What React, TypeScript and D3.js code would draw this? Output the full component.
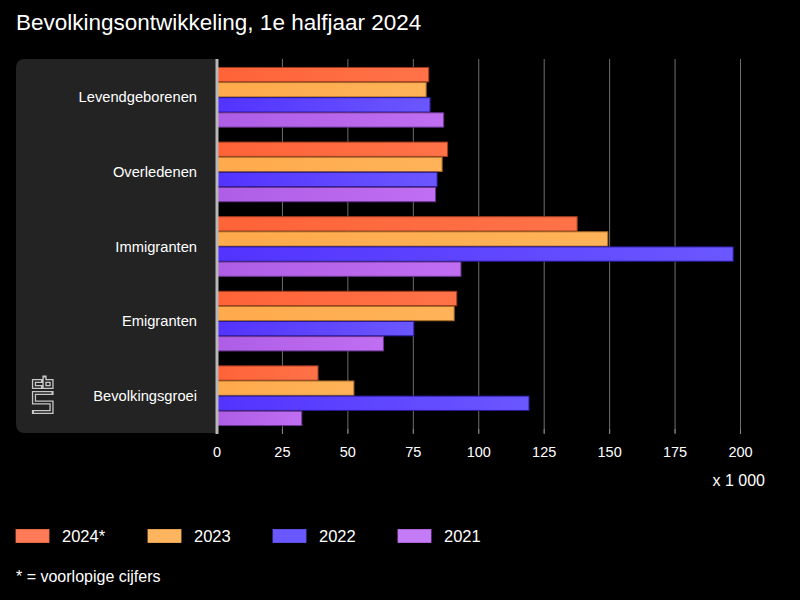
import React from "react";
import * as d3 from "d3";

const categories = ["Levendgeborenen", "Overledenen", "Immigranten", "Emigranten", "Bevolkingsgroei"];
const seriesNames = ["2024*", "2023", "2022", "2021"];
const values2024 = [80.9, 88.1, 137.6, 91.6, 38.6];
const values2023 = [79.9, 86.0, 149.3, 90.6, 52.3];
const values2022 = [81.4, 84.1, 197.2, 75.2, 119.2];
const values2021 = [86.6, 83.5, 93.2, 63.6, 32.4];
const xTicks = [0, 25, 50, 75, 100, 125, 150, 175, 200];

const seriesValues = [values2024, values2023, values2022, values2021];
const colorsMain = ["#FF6338", "#FFAA4C", "#5233FF", "#AE5EE6"];
const colorsLight = ["#FF7248", "#FFB358", "#6B57FF", "#C06EF2"];
const colorsStroke = ["#9E3A1E", "#A86A28", "#2A1A99", "#6A3590"];
const legendFill = ["#FF7A58", "#FFB560", "#6A58FF", "#C47CF6"];

const FONT = "'Liberation Sans', Arial, sans-serif";

export default function App() {
  const W = 800, H = 600;
  const x = d3.scaleLinear().domain([0, 200]).range([217, 740.5]);
  const y = d3.scaleBand<string>().domain(categories).range([60, 433]).paddingInner(0.18).paddingOuter(0.09);
  const ys = d3.scaleBand<string>().domain(seriesNames).range([0, y.bandwidth()]).padding(0.05);

  const panelPath = (() => {
    const x0 = 16, y0 = 59, x1 = 217, y1 = 433, r = 9;
    return `M${x1},${y0} L${x0 + r},${y0} Q${x0},${y0} ${x0},${y0 + r} L${x0},${y1 - r} Q${x0},${y1} ${x0 + r},${y1} L${x1},${y1} Z`;
  })();

  const logoLines = [
    "M41,381 L34,381 L34,387 L41,387",
    "M44.5,377.5 L44.5,387 L51.5,387 L51.5,381 L44.5,381",
    "M51.5,393 L34,393 L34,402.5 L51.5,402.5 L51.5,412 L34,412",
  ];

  const legendX = [16, 148, 273, 398];

  return (
    <svg width={W} height={H} style={{ position: "absolute", left: 0, top: 0, background: "#000" }} fontFamily={FONT}>
      <defs>
        {colorsMain.map((c, i) => (
          <linearGradient key={i} id={`g${i}`} x1="0" x2="1" y1="0" y2="0">
            <stop offset="0%" stopColor={c} />
            <stop offset="100%" stopColor={colorsLight[i]} />
          </linearGradient>
        ))}
      </defs>
      <rect x={0} y={0} width={W} height={H} fill="#000" />
      <text x={16} y={30} fill="#fff" fontSize={22.5}>Bevolkingsontwikkeling, 1e halfjaar 2024</text>

      <path d={panelPath} fill="#232323" />

      {xTicks.slice(1).map((t) => (
        <line key={t} x1={x(t)} x2={x(t)} y1={59} y2={433} stroke="#6e6e6e" strokeWidth={1} />
      ))}
      {xTicks.map((t) => (
        <line key={"tk" + t} x1={x(t)} x2={x(t)} y1={429} y2={434} stroke="#888" strokeWidth={1} />
      ))}

      {categories.map((cat, ci) => (
        <g key={cat}>
          {seriesNames.map((s, si) => {
            const v = seriesValues[si][ci];
            const by = (y(cat) as number) + (ys(s) as number);
            return (
              <rect
                key={s}
                x={x(0)}
                y={by}
                width={x(v) - x(0)}
                height={ys.bandwidth()}
                fill={`url(#g${si})`}
                stroke={colorsStroke[si]}
                strokeWidth={1}
              />
            );
          })}
          <text
            x={197}
            y={(y(cat) as number) + y.bandwidth() / 2 + 5}
            fill="#fff"
            fontSize={14.7}
            textAnchor="end"
          >
            {cat}
          </text>
        </g>
      ))}

      <line x1={217} x2={217} y1={59} y2={434} stroke="#b8b8b8" strokeWidth={3} />

      {logoLines.map((d, i) => (
        <g key={i}>
          <path d={d} fill="none" stroke="#c8c8c8" strokeWidth={4.2} strokeLinecap="square" strokeLinejoin="miter" />
          <path d={d} fill="none" stroke="#232323" strokeWidth={1.6} strokeLinecap="butt" strokeLinejoin="miter" />
        </g>
      ))}

      {xTicks.map((t) => (
        <text key={"l" + t} x={x(t)} y={457} fill="#fff" fontSize={14.5} textAnchor="middle">
          {t}
        </text>
      ))}
      <text x={765} y={486} fill="#fff" fontSize={16} textAnchor="end">x 1 000</text>

      {seriesNames.map((s, i) => (
        <g key={"lg" + s}>
          <rect x={legendX[i]} y={529.5} width={33} height={13} fill={legendFill[i]} stroke={colorsLight[i]} strokeWidth={0.8} />
          <text x={legendX[i] + 46} y={542} fill="#fff" fontSize={16.5}>{s}</text>
        </g>
      ))}
      <text x={16} y={582} fill="#fff" fontSize={16}>* = voorlopige cijfers</text>
    </svg>
  );
}
